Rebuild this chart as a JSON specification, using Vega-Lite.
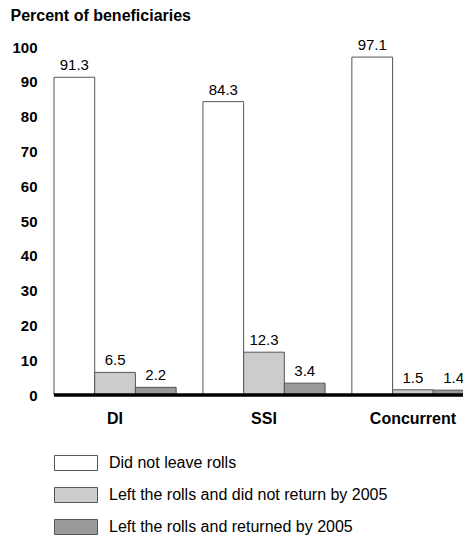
{
  "$schema": "https://vega.github.io/schema/vega-lite/v6.json",
  "autosize": "none",
  "padding": {"left": 54, "top": 47, "right": 0, "bottom": 147},
  "width": 420,
  "height": 348,
  "config": {
    "view": {"stroke": null},
    "font": "Liberation Sans"
  },
  "data": {
    "values": [
      {"program": "DI", "status": "Did not leave rolls", "order": 1, "pct": 91.3},
      {"program": "DI", "status": "Left the rolls and did not return by 2005", "order": 2, "pct": 6.5},
      {"program": "DI", "status": "Left the rolls and returned by 2005", "order": 3, "pct": 2.2},
      {"program": "SSI", "status": "Did not leave rolls", "order": 1, "pct": 84.3},
      {"program": "SSI", "status": "Left the rolls and did not return by 2005", "order": 2, "pct": 12.3},
      {"program": "SSI", "status": "Left the rolls and returned by 2005", "order": 3, "pct": 3.4},
      {"program": "Concurrent", "status": "Did not leave rolls", "order": 1, "pct": 97.1},
      {"program": "Concurrent", "status": "Left the rolls and did not return by 2005", "order": 2, "pct": 1.5},
      {"program": "Concurrent", "status": "Left the rolls and returned by 2005", "order": 3, "pct": 1.4}
    ]
  },
  "encoding": {
    "x": {
      "field": "program",
      "type": "nominal",
      "sort": ["DI", "SSI", "Concurrent"],
      "scale": {"paddingInner": 0.18, "paddingOuter": 0},
      "axis": {
        "title": null,
        "labelAngle": 0,
        "domain": false,
        "ticks": false,
        "labelFontSize": 16,
        "labelFontWeight": "bold",
        "labelColor": "#000",
        "labelPadding": 15
      }
    },
    "xOffset": {"field": "status", "type": "nominal", "sort": {"field": "order"}},
    "y": {
      "field": "pct",
      "type": "quantitative",
      "scale": {"domain": [0, 100]},
      "axis": {
        "title": "Percent of beneficiaries",
        "titleAngle": 0,
        "titleAlign": "left",
        "titleBaseline": "alphabetic",
        "titleX": -44,
        "titleY": -27,
        "titleFontSize": 16,
        "titleFontWeight": "bold",
        "titleColor": "#000",
        "values": [0, 10, 20, 30, 40, 50, 60, 70, 80, 90, 100],
        "domain": false,
        "ticks": false,
        "grid": false,
        "labelFontSize": 15,
        "labelFontWeight": "bold",
        "labelColor": "#000",
        "labelPadding": 17
      }
    }
  },
  "layer": [
    {
      "mark": {"type": "bar", "stroke": "#555", "strokeWidth": 1},
      "encoding": {
        "color": {
          "field": "status",
          "type": "nominal",
          "sort": {"field": "order"},
          "scale": {
            "domain": ["Did not leave rolls", "Left the rolls and did not return by 2005", "Left the rolls and returned by 2005"],
            "range": ["#ffffff", "#cccccc", "#999999"]
          },
          "legend": {
            "title": null,
            "orient": "none",
            "legendX": 0,
            "legendY": 394,
            "direction": "vertical",
            "padding": 0,
            "symbolType": "M-1,-0.35L1,-0.35L1,0.35L-1,0.35Z",
            "symbolSize": 1849,
            "symbolStrokeColor": "#555",
            "symbolStrokeWidth": 1,
            "symbolOpacity": 1,
            "labelFontSize": 16,
            "labelColor": "#000",
            "labelOffset": 11,
            "labelLimit": 400,
            "rowPadding": 0
          }
        }
      }
    },
    {
      "mark": {"type": "text", "dy": -12, "fontSize": 15, "color": "#000"},
      "encoding": {
        "text": {"field": "pct", "type": "quantitative", "format": ".1f"}
      }
    },
    {
      "data": {"values": [{"base": 0}]},
      "mark": {"type": "rule", "color": "#000", "strokeWidth": 3.5},
      "encoding": {
        "y": {"field": "base", "type": "quantitative"},
        "x": null,
        "xOffset": null
      }
    }
  ]
}
